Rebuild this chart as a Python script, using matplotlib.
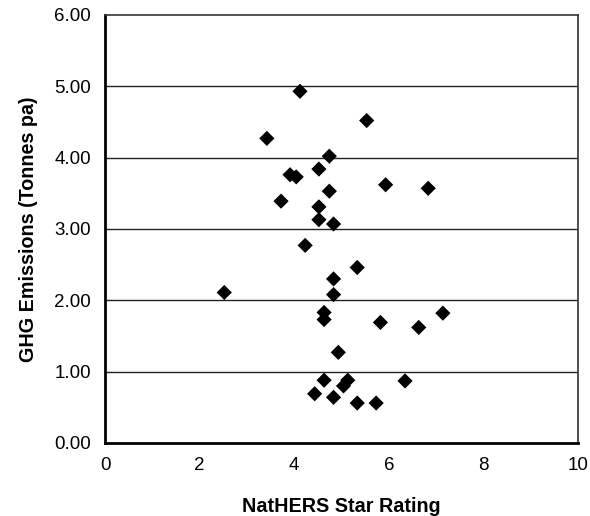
import matplotlib
matplotlib.use('Agg')
import matplotlib.pyplot as plt

# star rating vs emissions
star_rating = [4.12, 5.53, 3.42, 4.74, 4.52, 3.91, 4.04, 5.93, 6.83, 4.74,
               3.72, 4.52, 4.52, 4.83, 4.23, 5.33, 4.83, 2.52, 4.83, 4.63,
               4.63, 5.82, 6.63, 7.14, 4.93, 4.63, 5.13, 5.04, 6.34, 4.43,
               4.83, 5.33, 5.73]
ghg_emissions = [4.93, 4.52, 4.27, 4.02, 3.84, 3.76, 3.73, 3.62, 3.57, 3.53,
                 3.39, 3.31, 3.13, 3.07, 2.77, 2.46, 2.30, 2.11, 2.08, 1.83,
                 1.73, 1.69, 1.62, 1.82, 1.27, 0.88, 0.88, 0.80, 0.87, 0.69,
                 0.64, 0.56, 0.56]

x_ticks = [0, 2, 4, 6, 8, 10]
y_ticks = [0, 1, 2, 3, 4, 5, 6]

plt.rcParams['font.family'] = ['Liberation Sans', 'DejaVu Sans']

fig = plt.figure(figsize=(5.9, 5.16), dpi=100)
ax = fig.add_axes([0.178, 0.1415, 0.802, 0.8295])

for y in y_ticks[1:-1]:
    ax.axhline(y, color='#222222', linewidth=1.0, zorder=1)

ax.scatter(star_rating, ghg_emissions, marker='D', s=60, color='black',
           edgecolors='none', zorder=3)

ax.set_xlim(0, 10)
ax.set_ylim(0, 6)
ax.set_xticks(x_ticks)
ax.set_yticks(y_ticks)
ax.set_yticklabels([f'{v:.2f}' for v in y_ticks])
ax.tick_params(axis='y', length=0, labelsize=13.5, pad=10)
ax.tick_params(axis='x', length=0, labelsize=13.5, pad=10)

for side in ['left', 'bottom']:
    ax.spines[side].set_linewidth(2.0)
for side in ['top', 'right']:
    ax.spines[side].set_linewidth(1.2)
    ax.spines[side].set_color('#333333')

ax.set_xlabel('NatHERS Star Rating', fontsize=14.2, fontweight='bold', labelpad=17)
ax.set_ylabel('GHG Emissions (Tonnes pa)', fontsize=14.2, fontweight='bold', labelpad=12)

fig.savefig('out.png', dpi=100, facecolor='white')
